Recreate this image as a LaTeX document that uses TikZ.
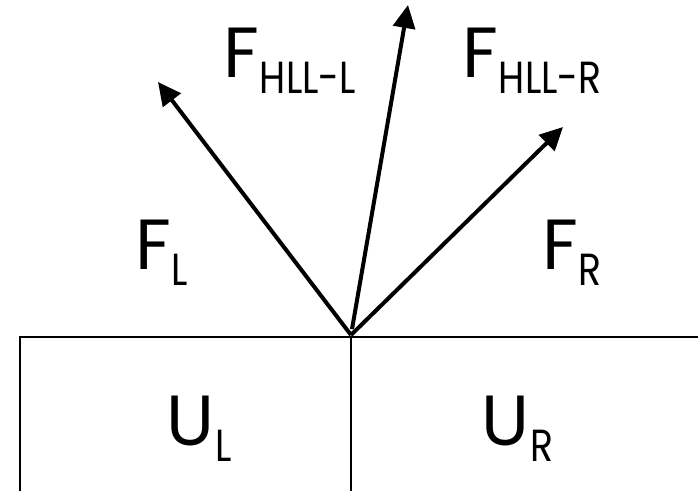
\documentclass[tikz,border=0pt]{standalone}
\usepackage{fontspec}
\setmainfont{Poppins}
\newfontfamily\subfont[FakeStretch=0.84]{Poppins}
\usetikzlibrary{arrows.meta}

% big letter with a lowered subscript
\newcommand{\fluxlabel}[2]{{\fontsize{71}{71}\selectfont #1}\kern1pt\raisebox{-16pt}{\subfont\fontsize{45}{45}\selectfont #2}}

\tikzset{
    cell/.style={line width=1.5pt},
    wave/.style={line width=4pt, -{Triangle[length=23pt,width=22pt]}},
    flabel/.style={anchor=base west, inner sep=0pt}
}

\begin{document}
\begin{tikzpicture}[x=1pt, y=-1pt]
    \useasboundingbox (0,0) rectangle (698,491);

    % Cells (interface at x = 351)
    \coordinate (O) at (351,337);
    \draw[cell] (20,491) -- (20,337) -- (698,337);
    \draw[cell] (O) -- (351,491);

    % Wave directions leaving the interface
    \coordinate (src) at (351,335);
    \coordinate (tipL) at (158,82);
    \coordinate (tipM) at (408,5);
    \coordinate (tipR) at (563,127);

    \draw[wave] (src) -- (tipL);
    \draw[wave, shorten <=6pt] (src) -- (tipM);
    \draw[wave] (src) -- (tipR);

    % Flux labels
    \node[flabel] (FHLLL) at (223,77) {\fluxlabel{F}{HLL-L}};
    \node[flabel] (FHLLR) at (462,77) {\fluxlabel{F}{HLL-R}};
    \node[flabel] (FL) at (135,269) {\fluxlabel{F}{L}};
    \node[flabel] (FR) at (542,269) {\fluxlabel{F}{R}};

    % States
    \node[flabel] (UL) at (166,445) {\fluxlabel{U}{L}};
    \node[flabel] (UR) at (481,445) {\fluxlabel{U}{R}};
\end{tikzpicture}
\end{document}
